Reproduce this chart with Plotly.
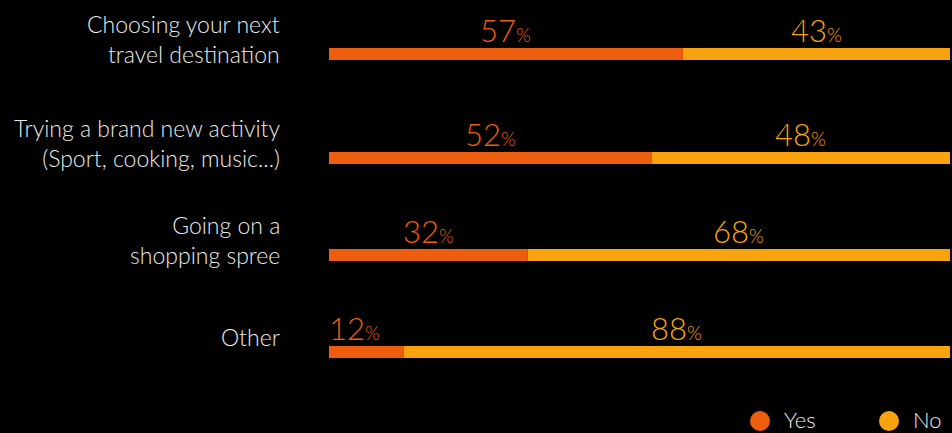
import plotly.graph_objects as go

categories = ["Choosing your next<br>travel destination",
              "Trying a brand new activity<br>(Sport, cooking, music...)",
              "Going on a<br>shopping spree",
              "Other"]
yes_values = [57, 52, 32, 12]
no_values = [43, 48, 68, 88]
series_names = ["Yes", "No"]

YES_COLOR = "#EC5D0D"
NO_COLOR = "#F8A20E"
TEXT_COLOR = "#EBEBEB"
FONT = "Lato"

# layout: vertical row centres in axis units (axis mapped 1:1 to pixels)
row_pos = [54, 158, 255, 352]
W, H = 952, 433

fig = go.Figure()
fig.add_trace(go.Bar(x=yes_values, y=row_pos, orientation="h", width=12,
                     marker=dict(color=YES_COLOR, line=dict(width=0)),
                     name=series_names[0], showlegend=False, hoverinfo="skip"))
fig.add_trace(go.Bar(x=no_values, y=row_pos, orientation="h", width=12,
                     base=yes_values,
                     marker=dict(color=NO_COLOR, line=dict(width=0)),
                     name=series_names[1], showlegend=False, hoverinfo="skip"))

annotations = []
def pct(v):
    return f"{v}<span style='font-size:19px'>%</span>"

for i, (cat, yv, nv, yp) in enumerate(zip(categories, yes_values, no_values, row_pos)):
    annotations.append(dict(x=0, xref="paper", xshift=-47, y=yp - 15, yref="y",
                            text=cat, showarrow=False, xanchor="right", yanchor="middle",
                            align="right",
                            font=dict(family=FONT, size=23, color=TEXT_COLOR, weight=300)))
    # yes label
    if yv < 20:
        annotations.append(dict(x=0, y=yp - 24, text=pct(yv), showarrow=False,
                                xanchor="left", yanchor="middle", xshift=-2,
                                font=dict(family=FONT, size=31, color=YES_COLOR, weight=300)))
    else:
        annotations.append(dict(x=yv / 2, y=yp - 24, text=pct(yv), showarrow=False,
                                xanchor="center", yanchor="middle",
                                font=dict(family=FONT, size=31, color=YES_COLOR, weight=300)))
    annotations.append(dict(x=yv + nv / 2, y=yp - 24, text=pct(nv), showarrow=False,
                            xanchor="center", yanchor="middle",
                            font=dict(family=FONT, size=31, color=NO_COLOR, weight=300)))

# manual legend
legend_items = [(series_names[0], YES_COLOR, 760), (series_names[1], NO_COLOR, 889)]
shapes = []
for name, col, cx in legend_items:
    shapes.append(dict(type="circle", xref="paper", yref="paper",
                       x0=(cx - 10 - 329) / 621, x1=(cx + 10 - 329) / 621,
                       y0=(H - 431) / H, y1=(H - 411) / H,
                       fillcolor=col, line=dict(width=0)))
    annotations.append(dict(x=(cx + 22 - 329) / 621, xref="paper", y=(H - 419) / H, yref="paper",
                            text=name, showarrow=False, xanchor="left", yanchor="middle",
                            font=dict(family=FONT, size=22, color=TEXT_COLOR, weight=300)))

fig.update_layout(
    width=W, height=H,
    margin=dict(l=329, r=2, t=0, b=0),
    paper_bgcolor="black", plot_bgcolor="black",
    barmode="overlay",
    xaxis=dict(range=[0, 100], visible=False, fixedrange=True),
    yaxis=dict(range=[H, 0], visible=False, fixedrange=True),
    annotations=annotations, shapes=shapes,
    showlegend=False,
)
fig.write_html("out.html",
               config={"displayModeBar": False},
               post_script="document.body.style.margin='0';document.body.style.background='black';document.body.style.overflow='hidden';")
